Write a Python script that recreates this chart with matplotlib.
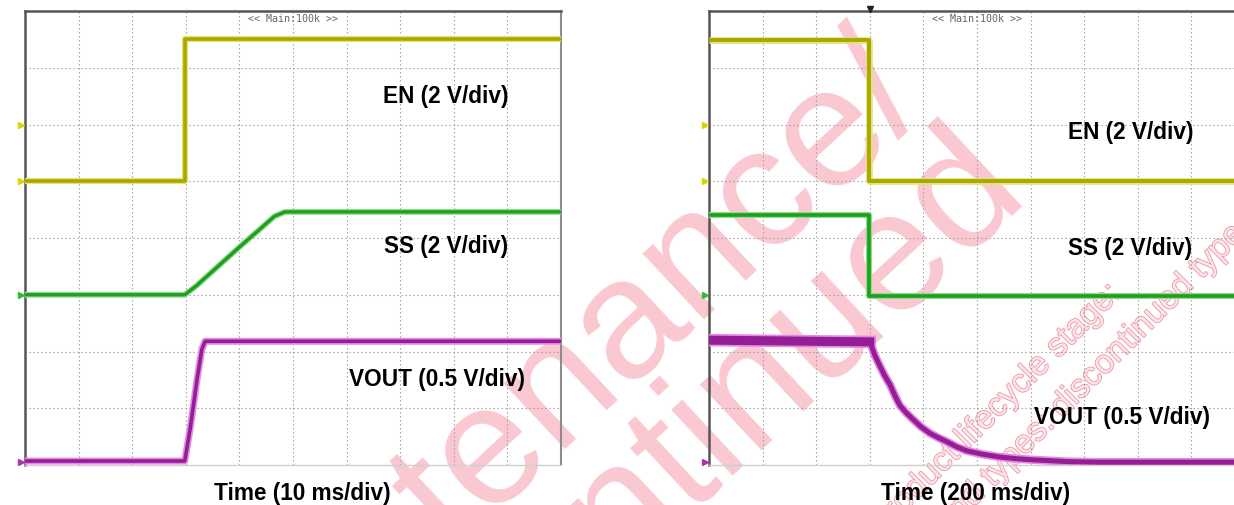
import matplotlib

matplotlib.use("Agg")
import matplotlib.patheffects as pe
import matplotlib.pyplot as plt

W, H = 1234, 506

# Scope traces: x in divisions (0-10), y in divisions (0-8 from bottom)
# Left capture: start-up, 10 ms/div
EN_ON_T = [0, 2.98, 2.98, 10]
EN_ON_V = [5.0, 5.0, 7.5, 7.5]
SS_ON_T = [0, 2.98, 3.2, 3.6, 4.0, 4.4, 4.65, 4.85, 10]
SS_ON_V = [3.0, 3.0, 3.16, 3.5, 3.84, 4.17, 4.38, 4.46, 4.46]
VOUT_ON_T = [0, 2.98, 3.08, 3.21, 3.30, 3.36, 10]
VOUT_ON_V = [0.07, 0.07, 0.63, 1.51, 2.04, 2.18, 2.18]

# Right capture: shutdown, 200 ms/div
EN_OFF_T = [0, 2.99, 2.99, 10]
EN_OFF_V = [7.49, 7.49, 5.0, 5.0]
SS_OFF_T = [0, 2.99, 2.99, 10]
SS_OFF_V = [4.41, 4.41, 2.97, 2.97]
VOUT_OFF_T = [0, 3.0, 3.05, 3.09, 3.14, 3.19, 3.28, 3.38, 3.47, 3.56, 3.68, 3.81, 3.96,
              4.12, 4.28, 4.44, 4.62, 4.81, 5.1, 5.43, 5.75, 6.06, 6.7, 7.31, 10]
VOUT_OFF_V = [2.2, 2.17, 2.05, 1.94, 1.84, 1.74, 1.57, 1.41, 1.22, 1.05, 0.92, 0.80, 0.67,
              0.56, 0.48, 0.41, 0.32, 0.25, 0.19, 0.14, 0.11, 0.09, 0.06, 0.05, 0.05]

LABELS = ["EN (2 V/div)", "SS (2 V/div)", "VOUT (0.5 V/div)"]
XLABELS = ["Time (10 ms/div)", "Time (200 ms/div)"]

YELLOW, YELLOW_HALO = "#a9a800", "#e4e27a"
GREEN, GREEN_HALO = "#1f9e1f", "#8fdc8f"
MAGENTA, MAGENTA_HALO = "#951d95", "#e48ae4"
WATERMARK = "#f9c8d1"
WATERMARK_SMALL = "#fbe4e8"
WATERMARK_EDGE = "#ee8fa0"

plt.rcParams["font.family"] = ["Liberation Sans", "DejaVu Sans"]


def px(x, y):
    return x / W, 1 - y / H


def trace(ax, t, v, color, halo, lw, halo_lw):
    ax.plot(t, v, color=halo, lw=halo_lw, solid_capstyle="butt",
            solid_joinstyle="round", zorder=3)
    ax.plot(t, v, color=color, lw=lw, solid_capstyle="butt",
            solid_joinstyle="round", zorder=4)


def scope_axes(fig, left_px):
    x0, y1 = px(left_px, 12)
    _, y0 = px(left_px, 466)
    ax = fig.add_axes([x0, y0, 536 / W, y1 - y0])
    ax.set_facecolor("none")
    ax.set_xlim(0, 10)
    ax.set_ylim(0, 8)
    ax.set_xticks(range(1, 10))
    ax.set_yticks(range(1, 8))
    ax.tick_params(length=0, labelleft=False, labelbottom=False)
    ax.grid(True, color="#9a9a9a", lw=0.8, ls=(0, (1.2, 2.4)), zorder=1)
    for side, color, lw in [("top", "#555555", 1.8), ("left", "#555555", 1.8),
                            ("right", "#8c8c8c", 1.5), ("bottom", "#d0d0d0", 1.0)]:
        ax.spines[side].set_color(color)
        ax.spines[side].set_linewidth(lw)
    ax.text(5.0, 7.87, "<< Main:100k >>", ha="center", va="center", fontsize=7.2,
            family="DejaVu Sans Mono", color="#666666", zorder=5)
    # channel reference markers on the left edge
    for y, c in [(6.0, "#d8d800"), (5.0, "#d8d800"), (3.0, "#33bb33"), (0.05, "#b030b0")]:
        ax.plot(-0.08, y, marker=">", ms=4, color=c, clip_on=False, zorder=6)
    return ax


fig = plt.figure(figsize=(W / 100, H / 100), dpi=100)

# watermark, behind everything
for (x, y), text in [((930, 99), "maintenance/"), ((1030, 193), "discontinued")]:
    fig.text(*px(x, y), text, rotation=43, rotation_mode="anchor",
             ha="right", va="baseline", fontsize=123, color=WATERMARK, zorder=-2)
outline = [pe.withStroke(linewidth=1.1, foreground=WATERMARK_EDGE)]
fig.text(*px(1122, 296), "Product lifecycle stage:", rotation=45, rotation_mode="anchor",
         ha="right", va="baseline", fontsize=24, color=WATERMARK_SMALL, zorder=-1,
         path_effects=outline)
fig.text(*px(947, 535), "and types: discontinued types", rotation=45, rotation_mode="anchor",
         ha="left", va="baseline", fontsize=24, color=WATERMARK_SMALL, zorder=-1,
         path_effects=outline)

ax1 = scope_axes(fig, 25)
trace(ax1, EN_ON_T, EN_ON_V, YELLOW, YELLOW_HALO, 2.6, 4.5)
trace(ax1, SS_ON_T, SS_ON_V, GREEN, GREEN_HALO, 2.4, 4.2)
trace(ax1, VOUT_ON_T, VOUT_ON_V, MAGENTA, MAGENTA_HALO, 2.6, 5.0)

ax2 = scope_axes(fig, 709)
trace(ax2, EN_OFF_T, EN_OFF_V, YELLOW, YELLOW_HALO, 2.8, 4.8)
trace(ax2, SS_OFF_T, SS_OFF_V, GREEN, GREEN_HALO, 2.6, 4.4)
trace(ax2, VOUT_OFF_T, VOUT_OFF_V, MAGENTA, MAGENTA_HALO, 3.6, 6.0)
ax2.plot(VOUT_OFF_T[:2], VOUT_OFF_V[:2], color=MAGENTA_HALO, lw=9, zorder=3)
ax2.plot(VOUT_OFF_T[:2], VOUT_OFF_V[:2], color=MAGENTA, lw=6.5, zorder=4)
ax2.plot(3.0, 8.03, marker="v", ms=4, color="#222222", clip_on=False, zorder=6)

label_pos = [
    [(446, 96), (446, 246), (437, 380)],
    [(1131, 133), (1130, 248), (1122, 418)],
]
for pos in label_pos:
    for (x, y), text in zip(pos, LABELS):
        fig.text(*px(x, y), text, ha="center", va="center", fontsize=16.3,
                 fontweight="bold", color="black", zorder=10)
for (x, y), text in zip([(302, 494), (976, 494)], XLABELS):
    fig.text(*px(x, y), text, ha="center", va="center", fontsize=16.3,
             fontweight="bold", color="black", zorder=10)

fig.savefig("out.png", dpi=100, facecolor="white")
